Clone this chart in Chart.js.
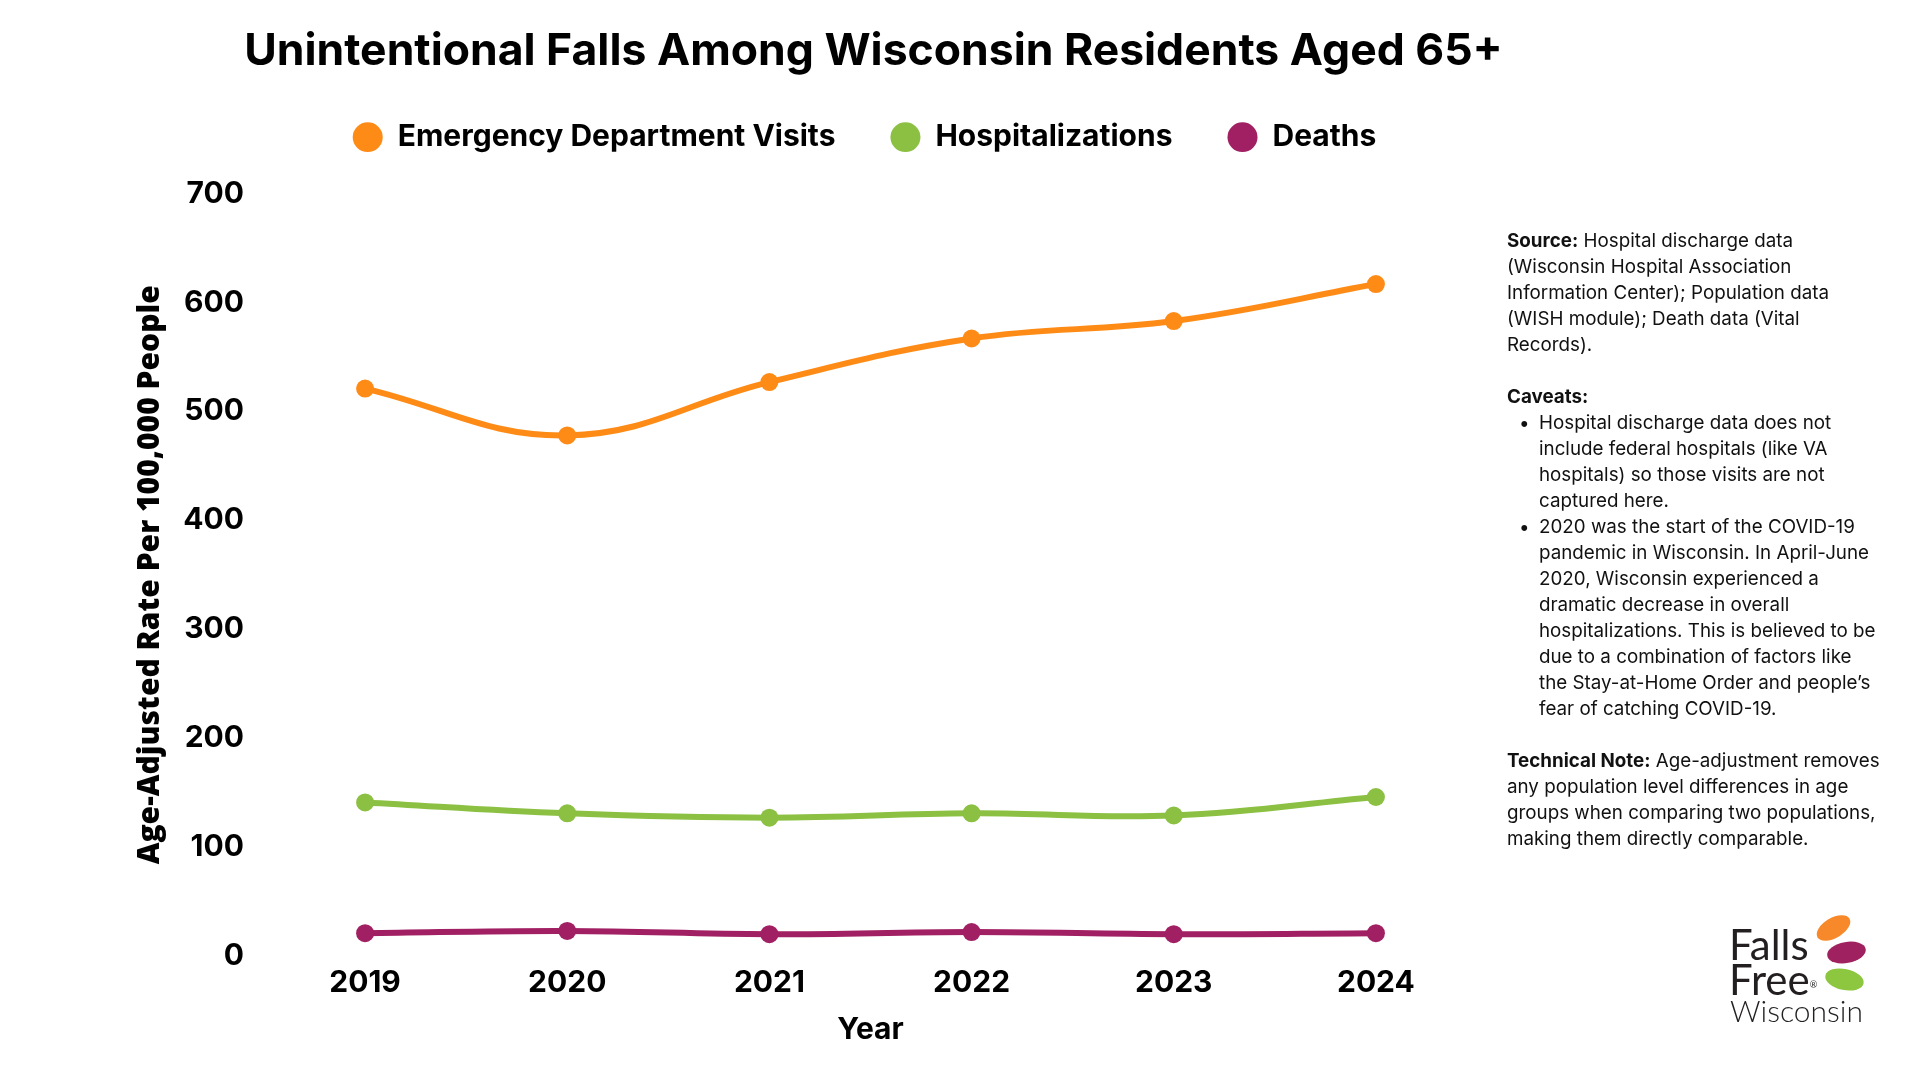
<!DOCTYPE html>
<html><head><meta charset="utf-8">
<script src="https://cdn.jsdelivr.net/npm/chart.js@4.4.1/dist/chart.umd.min.js"></script>
<style>
html,body{margin:0;padding:0;background:#fff;}
#wrap{position:relative;width:1920px;height:1080px;overflow:hidden;background:#fff;}
#c{position:absolute;left:0;top:0;}
#notes{position:absolute;left:1507px;top:228px;font-family:Inter,sans-serif;font-size:18.8px;line-height:26px;color:#111;white-space:nowrap;}
#notes .i{padding-left:32px;position:relative;}
#notes .dot{position:absolute;left:12px;}
#notes b{font-weight:700;}
.logo{position:absolute;font-family:Lato,sans-serif;color:#231f20;white-space:nowrap;}
.ell{position:absolute;border-radius:50%;}
</style></head>
<body><div id="wrap">
<canvas id="c" width="1920" height="1080"></canvas>
<div id="notes">
<div><b>Source:</b> Hospital discharge data</div>
<div>(Wisconsin Hospital Association</div>
<div>Information Center); Population data</div>
<div>(WISH module); Death data (Vital</div>
<div>Records).</div>
<div>&nbsp;</div>
<div><b>Caveats:</b></div>
<div class="i"><span class="dot">•</span>Hospital discharge data does not</div>
<div class="i">include federal hospitals (like VA</div>
<div class="i">hospitals) so those visits are not</div>
<div class="i">captured here.</div>
<div class="i"><span class="dot">•</span>2020 was the start of the COVID-19</div>
<div class="i">pandemic in Wisconsin. In April-June</div>
<div class="i">2020, Wisconsin experienced a</div>
<div class="i">dramatic decrease in overall</div>
<div class="i">hospitalizations. This is believed to be</div>
<div class="i">due to a combination of factors like</div>
<div class="i">the Stay-at-Home Order and people’s</div>
<div class="i">fear of catching COVID-19.</div>
<div>&nbsp;</div>
<div><b>Technical Note:</b> Age-adjustment removes</div>
<div>any population level differences in age</div>
<div>groups when comparing two populations,</div>
<div>making them directly comparable.</div>
</div>
<div class="logo" style="left:1729px;top:923px;font-size:42px;line-height:42px;">Falls</div>
<div class="logo" style="left:1729px;top:958px;font-size:42px;line-height:42px;">Free<span style="font-size:9px;vertical-align:top;position:relative;top:6px;">®</span></div>
<div class="logo" style="left:1730px;top:995px;font-size:30px;line-height:30px;font-weight:300;">Wisconsin</div>
<div class="ell" style="left:1815px;top:918px;width:37px;height:20px;background:#F7892A;transform:rotate(-30deg);"></div>
<div class="ell" style="left:1827px;top:942px;width:39px;height:21px;background:#A0215F;transform:rotate(-10deg);"></div>
<div class="ell" style="left:1825px;top:969px;width:39px;height:21px;background:#8DC63F;transform:rotate(12deg);"></div>
</div>
<script>
const years = ['2019', '2020', '2021', '2022', '2023', '2024'];
const edVisits = [521, 478, 527, 567, 583, 617];
const hospitalizations = [141, 131, 127, 131, 129, 146];
const deaths = [21, 23, 20, 22, 20, 21];
const seriesNames = ['Emergency Department Visits', 'Hospitalizations', 'Deaths'];
const yMin = 0, yMax = 700, yStep = 100;

const COLORS = ['#FF8B17', '#8BC043', '#A11F63'];

const centerTop = {
  id: 'centerTop',
  afterLayout(chart) {
    const a = chart.chartArea;
    if (chart.titleBlock) { chart.titleBlock.left = a.left - 80; chart.titleBlock.right = a.right + 86; }
    if (chart.legend) { chart.legend.left = a.left - 6; chart.legend.right = a.right - 6; }
  }
};

function ds(label, data, color) {
  return {
    label, data,
    borderColor: color, backgroundColor: color,
    pointBackgroundColor: color, pointBorderWidth: 0,
    pointRadius: 9, pointHoverRadius: 9,
    borderWidth: 6, tension: 0.4, clip: false
  };
}

const FONT = 'Inter';

new Chart(document.getElementById('c'), {
  type: 'line',
  data: {
    labels: years,
    datasets: [
      ds(seriesNames[0], edVisits, COLORS[0]),
      ds(seriesNames[1], hospitalizations, COLORS[1]),
      ds(seriesNames[2], deaths, COLORS[2])
    ]
  },
  options: {
    responsive: false,
    devicePixelRatio: 1,
    animation: false,
    layout: { padding: { left: 120, right: 443, top: 0, bottom: 0 } },
    plugins: {
      title: {
        display: true,
        text: 'Unintentional Falls Among Wisconsin Residents Aged 65+',
        color: '#000',
        font: { family: FONT, size: 44.5, weight: '700', lineHeight: 0.7 },
        padding: { top: 36, bottom: 0 }
      },
      subtitle: {
        display: true, text: '', weight: 500,
        font: { size: 10, lineHeight: 1 },
        padding: { top: 0, bottom: 21.5 }
      },
      legend: {
        display: true,
        labels: {
          color: '#000',
          font: { family: FONT, size: 30, weight: '700' },
          usePointStyle: true, pointStyle: 'circle',
          boxHeight: 21, pointStyleWidth: 30,
          padding: 55
        }
      },
      tooltip: { enabled: false }
    },
    scales: {
      x: {
        offset: true,
        grid: { display: false, drawTicks: false },
        border: { display: false },
        ticks: { color: '#000', padding: 9, font: { family: FONT, size: 30, weight: '700' } },
        title: { display: true, text: 'Year', color: '#000', font: { family: FONT, size: 30, weight: '700' }, padding: { top: 0, bottom: 32 } },
        afterFit(s) { s.height = 124; }
      },
      y: {
        min: yMin, max: yMax,
        grid: { display: false, drawTicks: false },
        border: { display: false },
        ticks: { stepSize: yStep, color: '#000', padding: 20, font: { family: FONT, size: 30, weight: '700' } },
        title: { display: true, text: 'Age-Adjusted Rate Per 100,000 People', color: '#000', font: { family: 'Open Sans', size: 30, weight: '800' }, padding: { top: 12, bottom: 0 } },
        afterFit(s) { s.width = 144; }
      }
    }
  },
  plugins: [centerTop]
});
</script>
</body></html>
